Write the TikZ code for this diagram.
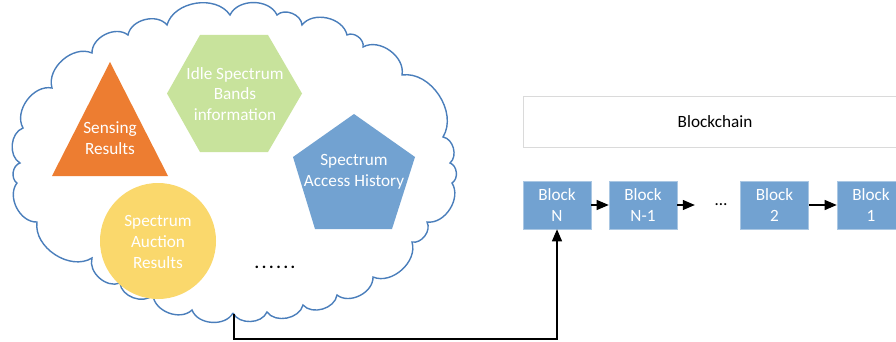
\documentclass[tikz,border=0pt]{standalone}
\usepackage{fontspec}
\setmainfont{Carlito}
\usetikzlibrary{arrows.meta}
\definecolor{cloudc}{HTML}{4A7EBB}
\definecolor{orangec}{HTML}{ED7D31}
\definecolor{greenc}{HTML}{C8E39C}
\definecolor{bluec}{HTML}{72A2D1}
\definecolor{yellowc}{HTML}{FAD86C}
\definecolor{grayb}{HTML}{DADADA}
\newcommand{\spd}{\makebox[7.2pt]{.}}
\begin{document}
\begin{tikzpicture}[x=1pt,y=-1pt,
  font=\fontsize{17.2}{20.6}\selectfont,
  puff/.style={bend left=65},
  shapelabel/.style={text=white,align=center,inner sep=0pt},
  blockbox/.style={draw=bluec!60,line width=0.6pt,fill=bluec,text=white,align=center,minimum width=68pt,minimum height=48pt,inner sep=0pt},
  arr/.style={line width=1.2pt,-{Triangle[length=12pt,width=10pt]}},
  cloudline/.style={draw=cloudc,line width=1.4pt,fill=white}]
\useasboundingbox (0,0) rectangle (896,342);
\clip (0,0) rectangle (896,342);
% cloud
\draw[cloudline] (233,313) to[puff] (192,310) to[puff] (153,295) to[puff] (120,283)
  to[puff] (92,258) to[puff] (37,222) to[puff] (17,183) to[puff] (20,163)
  to[puff] (23,128) to[puff] (52,88) to[puff] (92,53) to[puff] (128,35)
  to[puff] (167,25) to[puff] (230,15) to[puff] (277,15) to[puff] (302,25)
  to[puff] (347,35) to[puff] (363,47) to[puff] (402,75) to[puff] (443,137)
  to[puff] (450,163) to[puff] (452,183) to[puff] (427,222) to[puff] (412,242)
  to[puff] (373,277) to[puff] (337,295) to[puff] (303,305) to[puff] (267,312)
  to[puff] (233,313);
\coordinate (cloudbot) at (234,314);
% shapes
\fill[orangec] (110,62) -- (168,176) -- (52,176) -- cycle;
\node[shapelabel] (sense) at (110,138) {Sensing\\Results};
\fill[greenc] (167,93.5) -- (200,35) -- (268,35) -- (302,93.5) -- (268,152) -- (200,152) -- cycle;
\node[shapelabel] (idle) at (235,94) {Idle Spectrum\\Bands\\information};
\fill[bluec] (354,114) -- (415,157) -- (392,229) -- (315,229) -- (293,157) -- cycle;
\node[shapelabel] (access) at (354,172) {Spectrum\\Access History};
\fill[yellowc] (158,241) circle[radius=58];
\node[shapelabel] (auction) at (158,242) {Spectrum\\Auction\\Results};
\node[inner sep=0pt,font=\fontsize{17}{18}\bfseries] (more) at (275,267) {\spd\spd\spd\spd\spd\spd};
% blockchain
\node[draw=grayb,line width=1pt,fill=white,minimum width=384pt,minimum height=50pt,inner sep=0pt] (chain) at (715,122) {Blockchain};
\node[blockbox] (bN) at (557,205) {Block\\N};
\node[blockbox] (bN1) at (643,205) {Block\\N-1};
\node[minimum width=52pt,inner sep=0pt] (dots) at (721,205) {\dots};
\node[blockbox] (b2) at (774.5,205) {Block\\2};
\node[blockbox] (b1) at (871,205) {Block\\1};
\draw[arr] (bN) -- (bN1);
\draw[arr] (bN1) -- (dots.west);
\draw[arr] (b2) -- (b1);
\draw[arr] (cloudbot) -- ++(0,25) -| (bN.south);
\end{tikzpicture}
\end{document}
